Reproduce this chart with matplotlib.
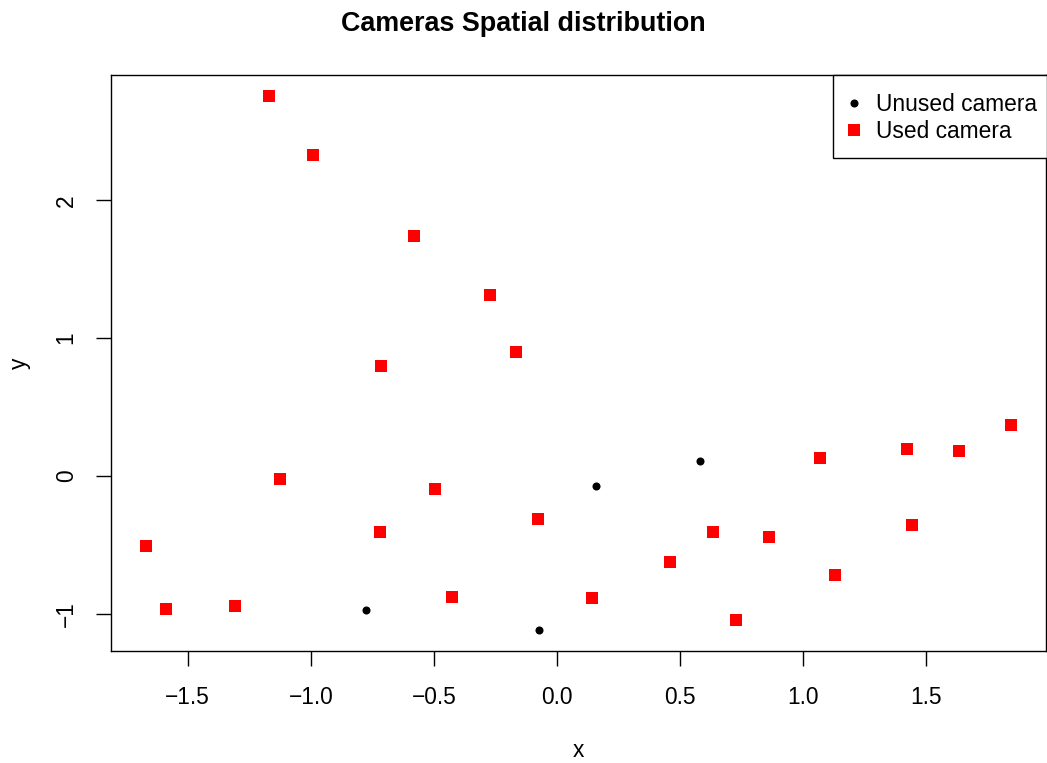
import matplotlib
matplotlib.use("Agg")
import matplotlib.pyplot as plt
from matplotlib.lines import Line2D
from matplotlib.patches import Rectangle

plt.rcParams['font.family'] = ['Liberation Sans', 'DejaVu Sans']

# Camera positions
used_x = [-1.168, -0.990, -0.580, -0.272, -0.166, -0.714, -1.124, -0.495, -0.718,
          -0.077, -1.671, -1.590, -1.306, -0.426, 0.142, 0.458, 0.633, 0.726,
          0.860, 1.067, 1.128, 1.424, 1.444, 1.635, 1.846]
used_y = [2.754, 2.326, 1.739, 1.312, 0.899, 0.797, -0.022, -0.094, -0.406,
          -0.312, -0.507, -0.964, -0.942, -0.877, -0.884, -0.623, -0.406, -1.043,
          -0.442, 0.130, -0.717, 0.196, -0.355, 0.181, 0.370]
unused_x = [-0.775, -0.073, 0.158, 0.580]
unused_y = [-0.971, -1.116, -0.072, 0.109]

x_ticks = [-1.5, -1.0, -0.5, 0.0, 0.5, 1.0, 1.5]
x_tick_labels = ["\u22121.5", "\u22121.0", "\u22120.5", "0.0", "0.5", "1.0", "1.5"]
y_ticks = [-1, 0, 1, 2]
y_tick_labels = ["\u22121", "0", "1", "2"]

FS = 16.4
W, H = 1047, 763
AX_L, AX_R, AX_T, AX_B = 111, 1046, 75, 651
fig = plt.figure(figsize=(W / 100, H / 100), dpi=100)
ax = fig.add_axes([AX_L / W, 1 - AX_B / H, (AX_R - AX_L) / W, (AX_B - AX_T) / H])


def px_to_axes(px, py):
    """Convert figure pixel coordinates (origin top-left) to axes fractions."""
    return (px - AX_L) / (AX_R - AX_L), (AX_B - py) / (AX_B - AX_T)


ax.scatter(unused_x, unused_y, s=5.8 ** 2, marker='o', color='black', linewidths=0, zorder=3)
ax.scatter(used_x, used_y, s=8.0 ** 2, marker='s', color='red', linewidths=0, zorder=3)

# R-style 4% padding of the data range
allx = used_x + unused_x
ally = used_y + unused_y
dx = (max(allx) - min(allx)) * 0.04
dy = (max(ally) - min(ally)) * 0.04
ax.set_xlim(min(allx) - dx, max(allx) + dx)
ax.set_ylim(min(ally) - dy, max(ally) + dy)

ax.set_xticks(x_ticks)
ax.set_xticklabels(x_tick_labels)
ax.set_yticks(y_ticks)
ax.set_yticklabels(y_tick_labels, rotation=90, va='center')
ax.tick_params(axis='both', direction='out', length=10.5, width=1, labelsize=FS,
               color='black')
ax.tick_params(axis='x', pad=14.5)
ax.tick_params(axis='y', pad=13.5)
for sp in ax.spines.values():
    sp.set_linewidth(1)

fig.text((AX_L + AX_R) / 2 / W, 1 - 757 / H, "x", ha='center', va='baseline', fontsize=FS)
fig.text(19 / W, 1 - 363 / H, "y", ha='center', va='center', rotation=90, fontsize=FS)
fig.text(0.5, 1 - 31 / H, "Cameras Spatial distribution", ha='center', va='baseline',
         fontsize=FS * 1.18, fontweight='bold')

# Legend box in the top-right corner
x0, y0 = px_to_axes(833, 158)
x1, y1 = px_to_axes(1047, 75)
ax.add_patch(Rectangle((x0, y0), x1 - x0, y1 - y0, transform=ax.transAxes,
                       facecolor='white', edgecolor='black', linewidth=1,
                       clip_on=False, zorder=4))

handles = [
    Line2D([], [], marker='o', color='black', linestyle='none', markersize=5.8, markeredgewidth=0),
    Line2D([], [], marker='s', color='red', linestyle='none', markersize=8.0, markeredgewidth=0),
]
leg = ax.legend(handles, ["Unused camera", "Used camera"], loc='upper left',
                bbox_to_anchor=px_to_axes(845, 93), bbox_transform=ax.transAxes,
                fontsize=FS, frameon=False, borderaxespad=0, borderpad=0,
                handlelength=0.8, handletextpad=0.58, labelspacing=0.195)
leg.set_zorder(5)

fig.savefig("out.png", dpi=100)
